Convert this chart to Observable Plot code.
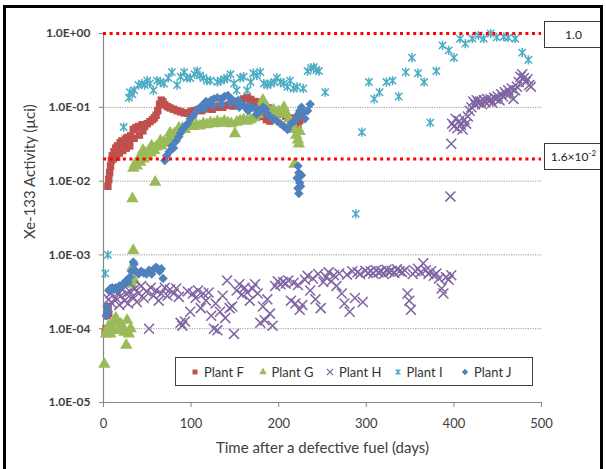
<!DOCTYPE html>
<html><head><meta charset="utf-8">
<script src="https://cdn.jsdelivr.net/npm/d3@7"></script>
<script src="https://cdn.jsdelivr.net/npm/@observablehq/plot@0.6"></script>
<style>
body{margin:0;background:#fff;font-family:Lato,"Open Sans",sans-serif;}
#wrap{position:relative;width:606px;height:469px;overflow:hidden;background:#fff;}
#frame{position:absolute;left:3px;top:5px;width:594px;height:500px;border:3px solid #000;pointer-events:none;}
.box{position:absolute;left:544px;width:57px;height:25px;border:1.5px solid #3a3a3a;background:#fff;display:flex;align-items:center;justify-content:center;font-size:12px;color:#222;}
.box sup{font-size:8px;vertical-align:super;line-height:0;}
#legend{position:absolute;left:175px;top:357px;width:342px;height:27px;border:1.5px solid #404040;background:#fff;display:flex;align-items:center;padding-left:14px;box-sizing:content-box;}
.item{display:flex;align-items:center;width:67.5px;font-size:13px;color:#333;white-space:nowrap;}
.item svg{margin-right:4px;}
g[aria-label="y-axis tick label"]{font-weight:700;}
</style></head>
<body>
<div id="wrap">
<div id="chart"></div>
<div id="legend"></div>
<div class="box" style="top:21px"><span>1.0</span></div>
<div class="box" style="top:143px"><span>1.6×10<sup>-2</sup></span></div>
<div id="frame"></div>
</div>
<script>
// ---- data: [day, Xe-133 activity (µCi)] ----
const plantF = [[2,9.0e-5],[3,1.0e-4],[4,1.5e-4],[5,2.0e-4],[6,1.6e-4],[5,1.8e-4],
[5,0.0085],[6,0.0105],[7,0.013],[8,0.016],[9,0.019],[10,0.022],[11,0.02],[12,0.025],[13,0.023],[14,0.028],[15,0.021],[16,0.03],[17,0.026],[18,0.024],[19,0.033],[21,0.035],[22,0.026],[23,0.031],[25,0.037],[26,0.028],[27,0.039],[29,0.035],[30,0.03],[31,0.041],[34,0.05],[35,0.038],[37,0.053],[40,0.055],[41,0.042],[44,0.058],[45,0.048],[47,0.055],[50,0.06],[53,0.064],[56,0.068],[58,0.072],[60,0.078],[62,0.09],[64,0.11],[66,0.125],[68,0.118],[70,0.108],[73,0.102],[76,0.098],[80,0.094],[84,0.09],[88,0.087],[92,0.084],[96,0.083],[100,0.088],[104,0.09],[108,0.093],[112,0.09],[116,0.095],[120,0.098],[124,0.094],[128,0.1],[132,0.104],[136,0.1],[140,0.106],[144,0.11],[148,0.104],[152,0.112],[156,0.12],[160,0.13],[164,0.136],[168,0.128],[172,0.12],[176,0.118],[180,0.11],[182,0.075],[184,0.104],[186,0.068],[188,0.098],[190,0.065],[192,0.094],[195,0.072],[196,0.09],[200,0.086],[204,0.08],[208,0.076],[212,0.072],[216,0.07],[219,0.064],[222,0.058],[224,0.066],[226,0.075]];

const plantG = [[1,3.3e-5],[3,8.5e-5],[4,9.5e-5],[6,1.1e-4],[8,8.5e-5],[10,1.0e-4],[12,1.25e-4],[14,1.4e-4],[16,1.2e-4],[18,9.5e-5],[20,1.15e-4],[22,1.05e-4],[24,9.0e-5],[26,6.0e-5],[27,1.3e-4],[29,8.5e-5],[31,1.0e-4],[32,4.0e-4],[33,6.8e-4],[34,1.15e-3],[35,4.5e-4],
[33,0.0058],[59,0.0097],
[34,0.015],[36,0.017],[38,0.016],[40,0.02],[42,0.018],[44,0.022],[45,0.026],[46,0.02],[48,0.024],[50,0.022],[52,0.026],[54,0.024],[55,0.03],[56,0.028],[58,0.026],[60,0.029],[63,0.031],[65,0.035],[66,0.03],[69,0.034],[72,0.033],[75,0.038],[76,0.045],[78,0.041],[81,0.044],[84,0.046],[86,0.052],[87,0.05],[90,0.052],[93,0.05],[96,0.055],[99,0.057],[102,0.055],[106,0.058],[110,0.056],[114,0.06],[118,0.058],[122,0.062],[126,0.06],[130,0.064],[134,0.061],[138,0.065],[142,0.062],[146,0.06],[150,0.044],[152,0.063],[156,0.066],[160,0.068],[164,0.065],[168,0.068],[172,0.072],[176,0.08],[179,0.1],[182,0.125],[185,0.105],[188,0.09],[191,0.085],[194,0.092],[197,0.082],[200,0.088],[203,0.085],[206,0.1],[209,0.08],[212,0.07],[215,0.06],[218,0.05],[220,0.042],[222,0.036],[223,0.032],[224,0.047],[218,0.017]];

const plantH = [[6,2.5e-4],[8,3.0e-4],[10,2.2e-4],[12,3.3e-4],[14,2.6e-4],[16,3.0e-4],[18,2.1e-4],[20,2.8e-4],[22,3.4e-4],[24,2.4e-4],[26,3.0e-4],[28,2.2e-4],[30,3.2e-4],[33,2.7e-4],[36,3.5e-4],[38,2.3e-4],[40,3.0e-4],[43,3.8e-4],[46,2.6e-4],[49,3.2e-4],[52,1.0e-4],[54,3.6e-4],[57,2.8e-4],[60,3.3e-4],[63,2.4e-4],[66,3.0e-4],[70,3.6e-4],[73,2.8e-4],[76,3.4e-4],[80,3.0e-4],[83,3.5e-4],[86,2.7e-4],[88,1.2e-4],[90,1.1e-4],[93,1.25e-4],[96,3.2e-4],[99,1.7e-4],[102,3.0e-4],[105,2.6e-4],[108,3.3e-4],[111,1.9e-4],[114,3.0e-4],[117,2.4e-4],[120,3.1e-4],[123,1.5e-4],[126,1.0e-4],[128,2.2e-4],[130,9.5e-5],[133,1.7e-4],[136,2.8e-4],[139,1.4e-4],[141,4.5e-4],[144,1.9e-4],[147,2.0e-4],[149,8.5e-5],[152,3.3e-4],[155,4.0e-4],[158,2.9e-4],[161,3.6e-4],[164,3.1e-4],[167,2.4e-4],[170,3.5e-4],[173,4.0e-4],[176,3.0e-4],[179,1.2e-4],[182,2.0e-4],[184,1.3e-4],[187,2.5e-4],[190,1.6e-4],[193,1.1e-4],[196,3.8e-4],[199,4.4e-4],[202,4.0e-4],[205,4.3e-4],[208,4.1e-4],[211,4.5e-4],[214,2.4e-4],[217,4.2e-4],[219,2.2e-4],[222,3.9e-4],[224,1.8e-4],[227,2.1e-4],[230,4.6e-4],[233,5.2e-4],[236,3.3e-4],[239,4.8e-4],[242,2.5e-4],[245,5.5e-4],[248,1.9e-4],[251,4.3e-4],[254,5.0e-4],[257,5.8e-4],[260,4.4e-4],[263,5.3e-4],[266,3.8e-4],[269,5.6e-4],[272,3.0e-4],[275,2.2e-4],[278,5.4e-4],[281,1.7e-4],[284,6.0e-4],[287,2.6e-4],[290,5.8e-4],[293,5.5e-4],[296,2.3e-4],[299,6.1e-4],[302,5.7e-4],[305,6.0e-4],[308,5.6e-4],[311,6.2e-4],[314,5.8e-4],[317,6.0e-4],[320,5.5e-4],[323,6.3e-4],[326,5.9e-4],[329,6.1e-4],[332,5.7e-4],[335,6.4e-4],[338,6.0e-4],[341,5.8e-4],[344,6.2e-4],[347,3.0e-4],[349,2.4e-4],[351,1.8e-4],[353,5.5e-4],[356,6.0e-4],[359,6.5e-4],[362,5.8e-4],[365,7.7e-4],[368,6.2e-4],[371,5.5e-4],[374,6.0e-4],[377,5.2e-4],[380,5.6e-4],[383,4.8e-4],[386,3.5e-4],[388,3.0e-4],[391,5.0e-4],[394,4.6e-4],[397,5.3e-4],
[396,0.0062],[397,0.032],[398,0.06],[400,0.055],[402,0.07],[404,0.052],[406,0.065],[408,0.058],[410,0.05],[412,0.068],[414,0.06],[416,0.075],[418,0.09],[420,0.1],[422,0.12],[424,0.11],[426,0.125],[428,0.115],[430,0.12],[432,0.11],[434,0.125],[436,0.118],[438,0.13],[440,0.12],[442,0.128],[444,0.115],[446,0.135],[448,0.13],[450,0.14],[452,0.125],[454,0.15],[456,0.14],[458,0.16],[460,0.15],[462,0.17],[464,0.155],[466,0.18],[468,0.13],[470,0.17],[472,0.19],[474,0.22],[476,0.26],[478,0.28],[480,0.25],[482,0.22],[484,0.24],[486,0.2],[488,0.19]];

const plantI = [[2,5.6e-4],[5,1.0e-3],[23,0.054],[29,0.135],[30,0.16],[33,0.15],[35,0.17],[40,0.2],[44,0.21],[47,0.2],[50,0.23],[53,0.21],[57,0.17],[61,0.23],[65,0.22],[69,0.21],[74,0.25],[78,0.3],[84,0.2],[88,0.26],[92,0.3],[95,0.25],[99,0.25],[104,0.28],[107,0.31],[110,0.27],[114,0.25],[118,0.23],[122,0.23],[130,0.22],[134,0.23],[138,0.24],[141,0.25],[145,0.28],[149,0.21],[152,0.17],[156,0.25],[160,0.26],[164,0.17],[168,0.22],[171,0.29],[175,0.27],[179,0.3],[183,0.21],[187,0.2],[191,0.21],[195,0.22],[198,0.25],[202,0.22],[206,0.21],[210,0.19],[213,0.23],[217,0.18],[221,0.19],[228,0.18],[233,0.31],[237,0.34],[240,0.35],[243,0.32],[246,0.31],[253,0.16],[288,0.0036],[295,0.046],[303,0.22],[309,0.13],[315,0.16],[323,0.22],[330,0.23],[337,0.14],[345,0.3],[352,0.47],[359,0.29],[366,0.22],[373,0.062],[380,0.31],[387,0.69],[394,0.59],[400,0.47],[407,0.85],[413,0.73],[421,0.85],[428,0.94],[434,0.85],[442,1.0],[449,0.89],[457,0.9],[462,0.88],[470,0.85],[478,0.55],[485,0.44]];

const plantJ = [[3,1.5e-4],[4,2.0e-4],[5,1.7e-4],[6,3.3e-4],[8,3.5e-4],[10,3.6e-4],[12,3.4e-4],[14,3.6e-4],[16,3.5e-4],[18,3.8e-4],[20,3.6e-4],[22,4.0e-4],[24,4.2e-4],[26,4.5e-4],[28,4.3e-4],[30,5.0e-4],[32,6.0e-4],[34,8.0e-4],[35,7.5e-4],[37,6.0e-4],[40,5.5e-4],[43,6.0e-4],[46,5.7e-4],[49,5.5e-4],[52,6.2e-4],[55,5.5e-4],[58,6.5e-4],[60,6.8e-4],[62,6.5e-4],[64,6.0e-4],[66,6.5e-4],[68,4.8e-4],
[70,0.019],[72,0.022],[75,0.025],[78,0.03],[80,0.028],[83,0.035],[86,0.04],[88,0.045],[90,0.05],[93,0.055],[96,0.06],[99,0.07],[102,0.075],[105,0.085],[108,0.095],[111,0.1],[114,0.11],[115,0.095],[117,0.12],[120,0.115],[123,0.125],[125,0.105],[126,0.13],[130,0.135],[134,0.13],[135,0.11],[138,0.14],[142,0.145],[145,0.115],[146,0.13],[150,0.12],[154,0.125],[155,0.1],[158,0.11],[162,0.1],[165,0.09],[166,0.105],[170,0.1],[174,0.095],[175,0.08],[178,0.09],[182,0.1],[185,0.095],[186,0.085],[190,0.075],[194,0.07],[198,0.065],[202,0.06],[206,0.055],[210,0.05],[214,0.06],[218,0.065],[220,0.07],[222,0.08],[224,0.09],[226,0.1],[228,0.085],[230,0.07],[233,0.09],[236,0.11],
[222,0.016],[223,0.013],[221,0.011],[224,0.0095],[222,0.008],[225,0.0085],[223,0.0068],[226,0.012]];

const plantNames = ["Plant F","Plant G","Plant H","Plant I","Plant J"];
const plantColors = ["#C0504D","#9BBB59","#8064A2","#4BACC6","#4F81BD"];
const xTicks = [0,100,200,300,400,500];
const xTickLabels = ["0","100","200","300","400","500"];
const yTicks = [1e-5,1e-4,1e-3,1e-2,1e-1,1];
const yTickLabels = ["1.0E-05","1.0E-04","1.0E-03","1.0E-02","1.0E-01","1.0E+00"];
const gridValues = [1e-1,1e-2,1e-3,1e-4];
const limitValues = [1.0, 0.02];

// ---- symbols ----
const starSymbol = {draw(ctx, size){const r=Math.sqrt(size/Math.PI);const s=r*0.8;ctx.moveTo(-s,-s);ctx.lineTo(s,s);ctx.moveTo(-s,s);ctx.lineTo(s,-s);ctx.moveTo(0,-r);ctx.lineTo(0,r);}};
const diamondSymbol = {draw(ctx, size){const r=Math.sqrt(size/Math.PI)*1.15;ctx.moveTo(0,-r);ctx.lineTo(r,0);ctx.lineTo(0,r);ctx.lineTo(-r,0);ctx.closePath();}};
const symbols = ["square","triangle","times",starSymbol,diamondSymbol];
const filled = [true,true,false,false,true];
const radii = [4.2,4.6,4.6,4.6,4.1];

const toRows = arr => arr.map(([day, value]) => ({day, value}));
const series = [plantF, plantG, plantH, plantI, plantJ];

const dotMarks = series.map((arr, i) => Plot.dot(toRows(arr), filled[i]
  ? {x:"day", y:"value", symbol: symbols[i], r: radii[i], fill: plantColors[i], stroke: "none"}
  : {x:"day", y:"value", symbol: symbols[i], r: radii[i], fill: "none", stroke: plantColors[i], strokeWidth: 1.5}));

const chart = Plot.plot({
  width: 606, height: 469,
  marginLeft: 103, marginRight: 65, marginTop: 33, marginBottom: 67,
  style: {fontFamily: "Lato, 'Open Sans', sans-serif", fontSize: "12px", color: "#404040", background: "transparent"},
  x: {domain: [0, 500]},
  y: {type: "log", domain: [1e-5, 1]},
  marks: [
    Plot.ruleY(gridValues, {stroke: "#9a9a9a", strokeWidth: 1, strokeDasharray: "1.2,1.2"}),
    Plot.ruleX([0], {stroke: "#868686", strokeWidth: 1.2}),
    Plot.ruleY([1e-5], {stroke: "#868686", strokeWidth: 1.2}),
    Plot.axisY({ticks: yTicks, tickFormat: d => yTickLabels[yTicks.indexOf(d)], tickSize: 4, tickPadding: 9, stroke: "#868686", label: null, fontSize: 12}),
    Plot.axisX({ticks: xTicks, tickFormat: d => xTickLabels[xTicks.indexOf(d)], tickSize: 5, tickPadding: 11, stroke: "#868686", label: null, fontSize: 13}),
    Plot.text(["Time after a defective fuel (days)"], {frameAnchor: "bottom", dy: 50, fontSize: 15, fill: "#404040"}),
    Plot.text(["Xe-133 Activity (µci)"], {frameAnchor: "left", rotate: -90, dx: -73, dy: 21, fontSize: 15, fill: "#404040"}),
    ...dotMarks,
    Plot.ruleY(limitValues, {stroke: "#ff0000", strokeWidth: 3, strokeDasharray: "3,3.6"})
  ]
});
document.getElementById("chart").appendChild(chart);

// ---- legend ----
const legend = document.getElementById("legend");
plantNames.forEach((name, i) => {
  const item = document.createElement("div");
  item.className = "item";
  const svg = d3.create("svg").attr("width", 10).attr("height", 10);
  const size = Math.PI * (i===2||i===3 ? 3 : 2.8) ** 2;
  svg.append("path").attr("transform", "translate(5,5)")
    .attr("d", d3.symbol(typeof symbols[i] === "string" ? {square: d3.symbolSquare, triangle: d3.symbolTriangle, times: d3.symbolTimes}[symbols[i]] : symbols[i], size)())
    .attr("fill", filled[i] ? plantColors[i] : "none")
    .attr("stroke", filled[i] ? "none" : plantColors[i])
    .attr("stroke-width", 1.2);
  item.appendChild(svg.node());
  const span = document.createElement("span");
  span.textContent = name;
  item.appendChild(span);
  legend.appendChild(item);
});
</script>
</body></html>
